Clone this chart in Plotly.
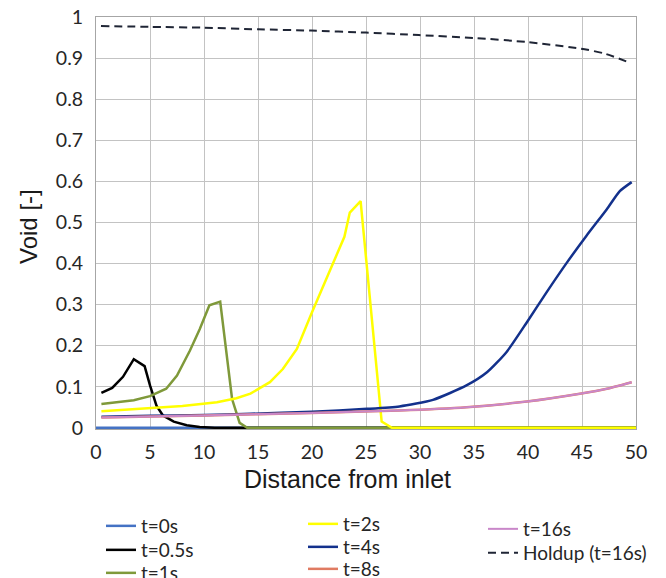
import plotly.graph_objects as go

# Void fraction profiles along the pipe at successive times
x_t0 = [0.0, 50]
void_t0 = [0, 0]

x_t05 = [0.5, 1.5, 2.5, 3.5, 4.5, 5.0, 5.6, 6.2, 7.2, 8.4, 9.6, 11.0, 50]
void_t05 = [0.085, 0.097, 0.124, 0.167, 0.150, 0.103, 0.054, 0.030, 0.015, 0.006, 0.002, 0.0, 0.0]

x_t1 = [0.5, 2, 3.5, 5, 6.5, 7.5, 8.7, 9.6, 10.5, 11.5, 12.6, 13.3, 14.0, 50]
void_t1 = [0.058, 0.062, 0.067, 0.077, 0.095, 0.127, 0.188, 0.240, 0.298, 0.307, 0.070, 0.012, 0.0, 0.0]

x_t2 = [0.5, 5, 8, 11.2, 13, 14.3, 16.1, 17.3, 18.6, 20.0, 21.7, 23.0, 23.5, 24.5, 26.45, 27.4, 50]
void_t2 = [0.040, 0.048, 0.053, 0.062, 0.072, 0.083, 0.111, 0.143, 0.192, 0.281, 0.386, 0.465,
           0.524, 0.552, 0.015, 0.0, 0.0]

x_t4 = [0.5, 5, 10, 14.3, 20, 25.1, 28.1, 31.2, 34.3, 36.2, 38.0, 39.9, 41.7, 43.6, 45.4, 47.3, 48.5, 49.6]
void_t4 = [0.027, 0.029, 0.031, 0.034, 0.039, 0.046, 0.052, 0.068, 0.103, 0.135, 0.184, 0.257,
           0.329, 0.402, 0.467, 0.532, 0.576, 0.598]

x_t8 = [0.5, 10, 20, 28.1, 34.3, 39.9, 44.8, 47.3, 49.6]
void_t8 = [0.025, 0.030, 0.036, 0.042, 0.050, 0.064, 0.083, 0.095, 0.111]

x_t16 = [0.5, 10, 20, 28.1, 34.3, 39.9, 44.8, 47.3, 49.6]
void_t16 = [0.025, 0.030, 0.036, 0.042, 0.050, 0.064, 0.083, 0.095, 0.111]

x_holdup = [0.46, 5, 9.9, 15, 19.9, 25, 29.9, 35, 39.9, 44.9, 47.1, 49.2]
holdup_t16 = [0.978, 0.976, 0.974, 0.970, 0.967, 0.962, 0.956, 0.949, 0.939, 0.923, 0.911, 0.891]

x_ticks = [0, 5, 10, 15, 20, 25, 30, 35, 40, 45, 50]
y_ticks = [0, 0.1, 0.2, 0.3, 0.4, 0.5, 0.6, 0.7, 0.8, 0.9, 1]
y_tick_text = ["0", "0.1", "0.2", "0.3", "0.4", "0.5", "0.6", "0.7", "0.8", "0.9", "1"]

# name, x, y, colour, width, dash, line shape, legend text anchor (x px, y px)
series = [
    ("t=0s", x_t0, void_t0, "#4472C4", 2.5, "solid", "linear", (143, 526)),
    ("t=0.5s", x_t05, void_t05, "#000000", 2.5, "solid", "linear", (143, 550)),
    ("t=1s", x_t1, void_t1, "#7F993A", 2.5, "solid", "linear", (143, 573)),
    ("t=2s", x_t2, void_t2, "#FFFF00", 2.5, "solid", "linear", (345, 524)),
    ("t=4s", x_t4, void_t4, "#13318C", 2.5, "solid", "spline", (345, 547)),
    ("t=8s", x_t8, void_t8, "#E07B62", 2.5, "solid", "spline", (345, 569)),
    ("t=16s", x_t16, void_t16, "#C987C9", 2.0, "solid", "spline", (525, 529)),
    ("Holdup (t=16s)", x_holdup, holdup_t16, "#1F2535", 2.0, "8px,5px", "spline", (525, 553)),
]

W, H = 666, 578
legend_font = dict(family="Lato, 'Open Sans', sans-serif", size=19, color="#262626")
tick_font = dict(family="Lato, 'Open Sans', sans-serif", size=19.5, color="#262626")
title_font = dict(family="Liberation Sans, Arial, sans-serif", size=24, color="#1a1a1a")
grid = "#C3C3C3"

fig = go.Figure()
legend_layouts = {}
for i, (name, xs, ys, color, width, dash, shape, (tx, ty)) in enumerate(series):
    key = "legend" if i == 0 else f"legend{i + 1}"
    line = dict(color=color, width=width, dash=dash, shape=shape)
    if shape == "spline":
        line["smoothing"] = 0.6
    fig.add_trace(go.Scatter(
        x=xs, y=ys, mode="lines", name=name, legend=key, showlegend=True, line=line,
    ))
    legend_layouts[key] = dict(
        xref="container", yref="container", x=(tx - 42) / W, y=1 - ty / H,
        xanchor="left", yanchor="middle", font=legend_font,
        bgcolor="rgba(0,0,0,0)", itemwidth=30, visible=True,
    )

fig.update_layout(
    width=W, height=H, showlegend=True,
    margin=dict(l=96, r=30, t=17, b=149, autoexpand=False),
    paper_bgcolor="white", plot_bgcolor="white",
    xaxis=dict(range=[0, 50], tickvals=x_ticks, showgrid=True, gridcolor=grid, gridwidth=1,
               showline=True, linecolor="#A6A6A6", linewidth=1, mirror=True,
               zeroline=False, ticks="", tickfont=tick_font, ticklabelstandoff=6),
    yaxis=dict(range=[-0.003, 1.0], tickvals=y_ticks, ticktext=y_tick_text, showgrid=True,
               gridcolor=grid, gridwidth=1, showline=True, linecolor="#A6A6A6", linewidth=1,
               mirror=True, zeroline=False, ticks="", tickfont=tick_font, ticklabelstandoff=8),
    annotations=[
        dict(text="Void [-]", xref="paper", yref="paper", x=(28 - 96) / 540, y=(429 - 227) / 412,
             showarrow=False, textangle=-90, font=title_font,
             xanchor="center", yanchor="middle"),
        dict(text="Distance from inlet", xref="paper", yref="paper", x=(347 - 96) / 540,
             y=(429 - 479) / 412, showarrow=False, font=dict(title_font, size=25),
             xanchor="center", yanchor="middle"),
    ],
    **legend_layouts,
)

fig.write_html("out.html")
